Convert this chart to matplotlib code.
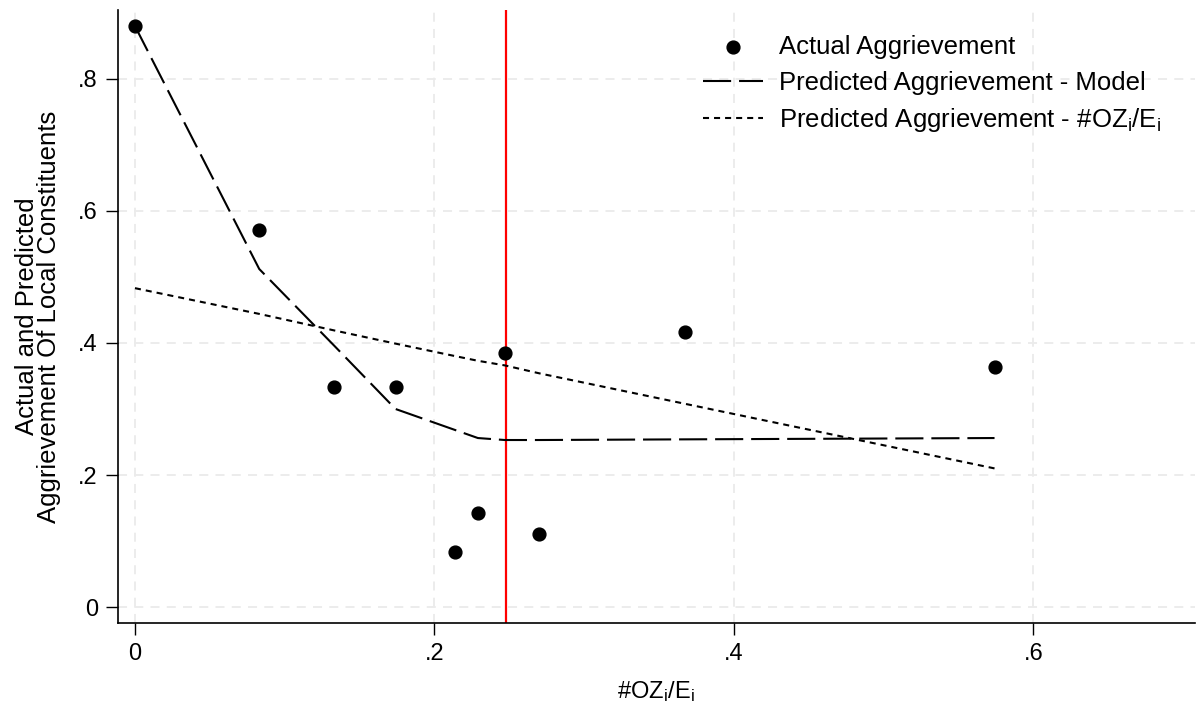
import matplotlib
matplotlib.use("Agg")
import matplotlib.pyplot as plt
from matplotlib.ticker import FuncFormatter

plt.rcParams["font.family"] = ["Liberation Sans", "DejaVu Sans"]
plt.rcParams["mathtext.fontset"] = "custom"
plt.rcParams["mathtext.rm"] = "Liberation Sans"
plt.rcParams["mathtext.it"] = "Liberation Sans"

# data
oz_share = [0.0, 0.083, 0.133, 0.174, 0.214, 0.229, 0.247, 0.270, 0.367, 0.574]
actual = [0.880, 0.571, 0.333, 0.333, 0.083, 0.143, 0.385, 0.111, 0.417, 0.364]
pred_model = [0.880, 0.512, 0.396, 0.300, 0.268, 0.256, 0.253, 0.253, 0.254, 0.256]
pred_share = [0.483, 0.444, 0.419, 0.399, 0.380, 0.373, 0.366, 0.354, 0.308, 0.210]
cutoff = 0.248

xticks = [0, 0.2, 0.4, 0.6]
yticks = [0, 0.2, 0.4, 0.6, 0.8]

sub = r"#OZ$_\mathregular{i}$/E$_\mathregular{i}$"

fig = plt.figure(figsize=(11.97, 7.04), dpi=100)
ax = fig.add_axes([0.0986, 0.115, 0.8994, 0.871])

ax.scatter(oz_share, actual, s=85, color="black", zorder=4,
           label="Actual Aggrievement")
ax.plot(oz_share, pred_model, color="black", lw=1.5, dashes=(13.5, 3.8),
        label="Predicted Aggrievement - Model", zorder=3)
ax.plot(oz_share, pred_share, color="black", lw=1.5, dashes=(2.9, 2.4),
        label="Predicted Aggrievement - " + sub, zorder=3)
ax.axvline(cutoff, color="red", lw=1.6, zorder=2)

ax.set_xlim(-0.0113, 0.7076)
ax.set_ylim(-0.0242, 0.9045)
ax.set_xticks(xticks)
ax.set_yticks(yticks)

fmt = FuncFormatter(lambda v, p: "0" if v == 0 else ("%.1f" % v).lstrip("0"))
ax.xaxis.set_major_formatter(fmt)
ax.yaxis.set_major_formatter(fmt)

ax.grid(True, color="#ebebeb", lw=1.3, ls=(0, (5, 4)), zorder=0)
ax.set_axisbelow(True)

for s in ["top", "right"]:
    ax.spines[s].set_visible(False)
for s in ["left", "bottom"]:
    ax.spines[s].set_linewidth(1.2)

ax.tick_params(direction="out", length=8.5, width=1, labelsize=17, pad=6)

ax.set_xlabel(sub, fontsize=17, labelpad=10)
ax.set_ylabel("Actual and Predicted\nAggrievement Of Local Constituents",
              fontsize=18.5, labelpad=12, linespacing=0.9)

ax.legend(loc="upper left", bbox_to_anchor=(703 / 1197, 669 / 704),
          bbox_transform=fig.transFigure, frameon=False,
          fontsize=18.5, handlelength=2.35, handletextpad=0.6,
          labelspacing=0.45, borderpad=0, borderaxespad=0)

fig.savefig("out.png", dpi=100)
